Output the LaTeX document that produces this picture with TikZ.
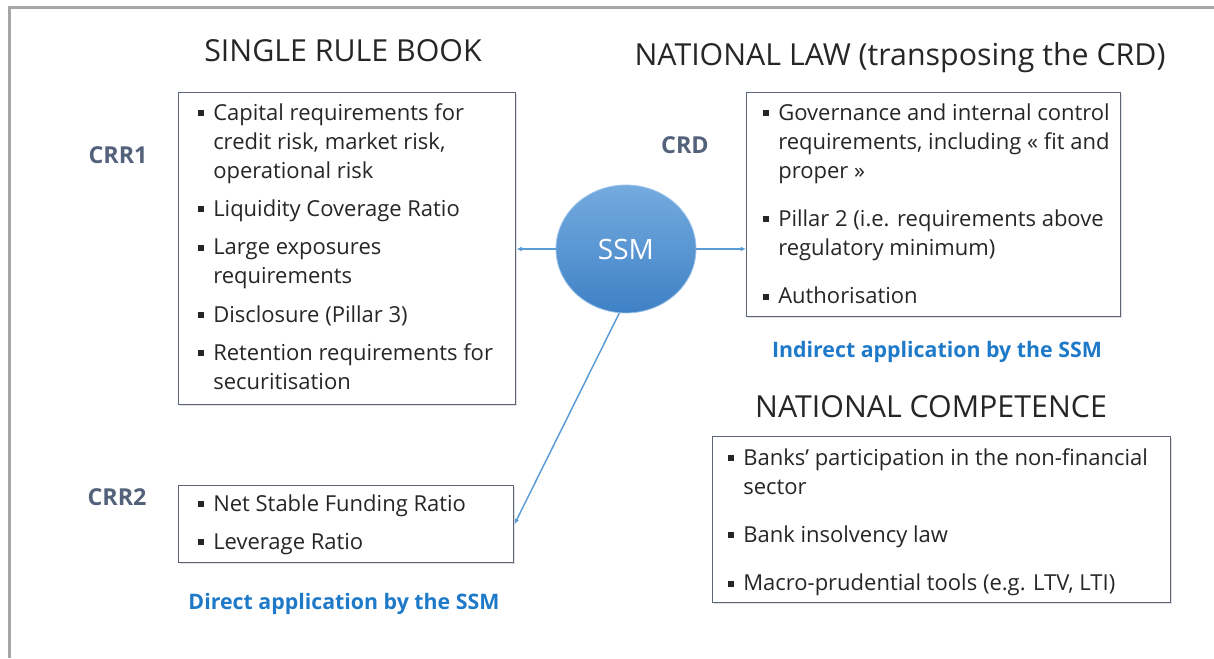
\documentclass[tikz,border=0pt]{standalone}
\usepackage{fontspec}
\setmainfont{Open Sans}
\usetikzlibrary{arrows.meta}
\usetikzlibrary{positioning}
\usetikzlibrary{shapes.geometric}
\usetikzlibrary{shadows}
\tikzset{>=latex}
\definecolor{framegray}{HTML}{A6A6A6}
\definecolor{boxline}{HTML}{5B6577}
\definecolor{tagslate}{HTML}{54617A}
\definecolor{appblue}{HTML}{1E7AC8}
\definecolor{ssmtop}{HTML}{74ABDF}
\definecolor{ssmbottom}{HTML}{3F81C6}
\definecolor{linkblue}{HTML}{5B9BD5}
\newcommand\bodysize{\fontsize{16.5}{21.75}\selectfont}
\newcommand\sq{\rule[.2em]{4.5pt}{4.5pt}}
\newcommand\smallgap{7pt}
\newcommand\biggap{14.5pt}
\tikzset{
    heading/.style={anchor=base, font=\fontsize{22.75}{27}\selectfont, text=black!85},
    ruletag/.style={anchor=base, font=\fontsize{17.5}{21}\selectfont\bfseries, text=tagslate},
    applied/.style={anchor=base, font=\fontsize{16}{19}\selectfont\bfseries, text=appblue},
    rulebox/.style 2 args={draw=boxline, line width=1.1pt, fill=white, anchor=north west, inner sep=0pt,
        minimum width=#1, minimum height=#2,
        drop shadow={shadow xshift=1.2pt, shadow yshift=-1.2pt, opacity=.3, fill=black!40}},
    itemlist/.style={anchor=north west, inner sep=0pt, font=\bodysize, text=black!85},
    ssm/.style={ellipse, minimum width=105pt, minimum height=96pt, top color=ssmtop, bottom color=ssmbottom,
        draw=ssmtop!70!white, line width=.6pt, text=white, font=\fontsize{21}{25}\selectfont},
    link/.style={-{Latex[length=4pt,width=3.5pt]}, draw=linkblue, line width=1.1pt},
}

\begin{document}
\begin{tikzpicture}[x=0.75pt, y=-0.75pt]
    \useasboundingbox (0,0) rectangle (1214,658);
    % open frame, top and left edges only
    \draw[framegray, line width=2.25pt] (9,658) -- (9,7) -- (1214,7);

    % headings
    \node[heading] (srb) at (343,61) {SINGLE RULE BOOK};
    \node[heading] (nl) at (900,65) {NATIONAL LAW (transposing the CRD)};
    \node[heading] (nc) at (931,417) {NATIONAL COMPETENCE};

    % boxes
    \node[rulebox={252.75pt}{234pt}] (rulebook) at (178,92) {};
    \node[rulebox={280.5pt}{168pt}] (natlaw) at (746,92) {};
    \node[rulebox={343.5pt}{124.5pt}] (natcomp) at (712,436) {};
    \node[rulebox={251.25pt}{57.75pt}] (crrtwo) at (178,485) {};

    \node[itemlist] (rblist) at ([xshift=15pt,yshift=-5.8pt]rulebook.north west) {%
        \begin{tabular}{@{}l@{\hspace{6.75pt}}l@{}}
        \sq & Capital requirements for\\
            & credit risk, market risk,\\
            & operational risk\\[\smallgap]
        \sq & Liquidity Coverage Ratio\\[\smallgap]
        \sq & Large exposures\\
            & requirements\\[\smallgap]
        \sq & Disclosure (Pillar 3)\\[\smallgap]
        \sq & Retention requirements for\\
            & securitisation
        \end{tabular}};
    \node[itemlist] (nllist) at ([xshift=12.75pt,yshift=-5.8pt]natlaw.north west) {%
        \begin{tabular}{@{}l@{\hspace{6.75pt}}l@{}}
        \sq & Governance and internal control\\
            & requirements, including « fit and\\
            & proper »\\[\biggap]
        \sq & Pillar 2 (i.e. requirements above\\
            & regulatory minimum)\\[\biggap]
        \sq & Authorisation
        \end{tabular}};
    \node[itemlist] (nclist) at ([xshift=12pt,yshift=-6.5pt]natcomp.north west) {%
        \begin{tabular}{@{}l@{\hspace{6.75pt}}l@{}}
        \sq & Banks’ participation in the non-financial\\
            & sector\\[\biggap]
        \sq & Bank insolvency law\\[\biggap]
        \sq & Macro-prudential tools (e.g. LTV, LTI)
        \end{tabular}};
    \node[itemlist] (crrlist) at ([xshift=15pt,yshift=-4.3pt]crrtwo.north west) {%
        \begin{tabular}{@{}l@{\hspace{6.75pt}}l@{}}
        \sq & Net Stable Funding Ratio\\[\smallgap]
        \sq & Leverage Ratio
        \end{tabular}};

    % side tags and captions
    \node[ruletag] (crr1) at (118,163) {CRR1};
    \node[ruletag] (crd) at (685,153) {CRD};
    \node[ruletag] (crr2) at (117,505) {CRR2};
    \node[applied] (indirect) at (937,357) {Indirect application by the SSM};
    \node[applied] (direct) at (344,609) {Direct application by the SSM};

    % SSM and its links
    \node[ssm] (ssmnode) at (626,249) {SSM};
    \draw[link] (ssmnode) -- (rulebook.east |- ssmnode);
    \draw[link] (ssmnode) -- (natlaw.west |- ssmnode);
    \draw[link] (ssmnode.-96) -- (crrtwo.east);
\end{tikzpicture}
\end{document}
